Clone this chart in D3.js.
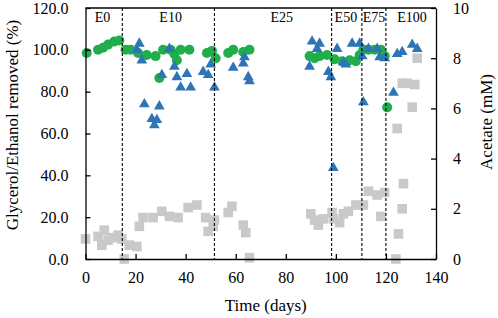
<!DOCTYPE html>
<html lang="en">
<head>
    <meta charset="UTF-8">
    <title>Glycerol / Ethanol removal and acetate</title>
    <script src="https://d3js.org/d3.v7.min.js"></script>
    <style>
        body { margin: 0; background: #fff; }
        text { font-family: "Liberation Serif", "Times New Roman", serif; fill: #000; }
    </style>
</head>
<body>
    <svg id="chart" width="498" height="318"></svg>
    <script>
        // green circles: removal (%)
        const circleDays = [0.5, 5, 7, 9, 11.5, 13.5, 16, 18, 21, 24.5, 28, 29.5, 31, 34, 35.5, 36.5, 38, 41.5, 48.5, 50.5, 52, 57, 59, 63, 65.5,
            89.5, 91.5, 93.5, 96.5, 99.5, 102.5, 105.5, 108, 109.5, 111, 113, 115.5, 118, 119.5, 120.5];
        const circlePct = [98.5, 100, 101, 102.5, 104, 104.5, 100, 100, 98.5, 97.5, 97, 86.5, 100, 100, 98, 95, 100, 100, 98.5, 99.5, 96, 98.5, 100, 99, 100,
            97, 96, 97, 97.5, 95.5, 94.5, 95, 94.5, 97.5, 100, 100, 100, 100, 97, 72.5];

        // blue triangles: removal (%)
        const triDays = [20.5, 21.5, 22.5, 23.5, 26.5, 27.5, 28.5, 29.5, 30.5, 33.5, 35.5, 36.5, 38, 40.5, 42, 47, 49, 50, 51.5, 59, 63, 63.5, 65, 65.5,
            89.5, 90.5, 92.5, 93.5, 97, 98, 99, 100.5, 103, 104, 106.5, 109.5, 111, 110.5, 113, 116.5, 117.5, 119.5, 123, 124.5, 126.5, 130.5, 132.5];
        const triPct = [100, 103, 95, 74, 67, 64, 66.5, 73, 88, 100.5, 92, 87, 82, 88.5, 82, 89.5, 88, 93, 82, 91.5, 93.5, 96.5, 87, 85,
            92, 104, 100.5, 103, 89.5, 87, 43.5, 100.5, 94, 93, 103, 103, 75, 97, 100.5, 100.5, 96.5, 96, 79.5, 98, 99, 102.5, 100.5];

        // grey squares: acetate (mM)
        const sqDays = [0, 5, 6.5, 7.5, 9, 11, 13, 14.5, 15.5, 17.5, 20.5, 21.5, 23, 27, 30.5, 33.5, 37, 41, 44.5, 48, 49, 51, 51.5, 57, 58.5, 63, 64, 65.5,
            90, 91.5, 93, 95, 98.5, 99, 101.5, 103, 105, 108, 111, 113, 116.5, 118, 119.5, 124, 125, 124.5, 126.5, 127, 126.5, 128.5, 130.5, 131.5, 132.5];
        const sqMM = [0.8, 0.9, 0.55, 1.15, 0.75, 0.85, 0.95, 0.8, 0, 0.55, 0.5, 1.3, 1.65, 1.65, 1.9, 1.7, 1.65, 2.05, 2.15, 1.65, 1.1, 1.3, 1.55, 1.85, 2.1, 1.35, 1.05, 0.05,
            1.8, 1.55, 1.35, 1.6, 1.85, 1.6, 1.45, 1.8, 1.9, 2.15, 2.15, 2.7, 2.55, 1.7, 2.65, 0, 1.0, 5.2, 2.0, 3.0, 7.0, 7.0, 6.05, 6.95, 8.0];

        // phase changes
        const phaseDays = [14.7, 51.5, 98.3, 110.4, 120];
        const phaseNames = ["E0", "E10", "E25", "E50", "E75", "E100"];
        const phaseNameDays = [6.8, 34, 78.4, 104, 115.2, 130.4];

        const xTicks = [0, 20, 40, 60, 80, 100, 120, 140];
        const leftTicks = [0, 20, 40, 60, 80, 100, 120];
        const rightTicks = [0, 2, 4, 6, 8, 10];

        const svg = d3.select("#chart");
        const plotL = 85.5, plotR = 436, plotT = 8, plotB = 259;

        const x = d3.scaleLinear().domain([0, 140]).range([plotL, plotR]);
        const yL = d3.scaleLinear().domain([0, 120]).range([plotB, plotT]);
        const yR = d3.scaleLinear().domain([0, 10]).range([plotB, plotT]);

        // markers
        svg.append("g").selectAll("path")
            .data(sqDays.map((d, i) => [d, sqMM[i]]))
            .enter().append("path")
                .attr("transform", d => `translate(${x(d[0])},${yR(d[1])})`)
                .attr("d", d3.symbol(d3.symbolSquare, 92))
                .attr("fill", "#c9c9c9");

        svg.append("g").selectAll("circle")
            .data(circleDays.map((d, i) => [d, circlePct[i]]))
            .enter().append("circle")
                .attr("cx", d => x(d[0]))
                .attr("cy", d => yL(d[1]))
                .attr("r", 5)
                .attr("fill", "#1fae4b");

        svg.append("g").selectAll("path")
            .data(triDays.map((d, i) => [d, triPct[i]]))
            .enter().append("path")
                .attr("transform", d => `translate(${x(d[0])},${yL(d[1])})`)
                .attr("d", d3.symbol(d3.symbolTriangle, 50))
                .attr("fill", "#2e75b6");

        // phase lines
        svg.append("g").selectAll("line")
            .data(phaseDays)
            .enter().append("line")
                .attr("x1", d => x(d)).attr("x2", d => x(d))
                .attr("y1", plotT).attr("y2", plotB)
                .attr("stroke", "#000")
                .attr("stroke-width", 1.1)
                .attr("stroke-dasharray", "3,2");

        svg.append("g").selectAll("text")
            .data(phaseNames)
            .enter().append("text")
                .attr("x", (d, i) => x(phaseNameDays[i]))
                .attr("y", 22)
                .attr("text-anchor", "middle")
                .style("font-size", "14px")
                .text(d => d);

        // axes
        const ax = svg.append("g")
            .attr("transform", `translate(0,${plotB})`)
            .call(d3.axisBottom(x).tickValues(xTicks).tickSizeInner(-5).tickSizeOuter(0).tickPadding(13));
        const ayL = svg.append("g")
            .attr("transform", `translate(${plotL},0)`)
            .call(d3.axisLeft(yL).tickValues(leftTicks).tickFormat(d3.format(".1f")).tickSizeInner(-5).tickSizeOuter(0).tickPadding(17));
        const ayR = svg.append("g")
            .attr("transform", `translate(${plotR},0)`)
            .call(d3.axisRight(yR).tickValues(rightTicks).tickSizeInner(-5).tickSizeOuter(0).tickPadding(17));

        [ax, ayL, ayR].forEach(a => {
            a.selectAll("path, line").attr("stroke", "#000").attr("stroke-width", 1.3);
            a.selectAll("text").style("font-size", "16px").style("font-family", "'Liberation Serif', serif");
        });

        svg.append("line")
            .attr("x1", plotL).attr("x2", plotR)
            .attr("y1", plotT).attr("y2", plotT)
            .attr("stroke", "#000").attr("stroke-width", 1.3);

        // titles
        svg.append("text")
            .attr("x", (plotL + plotR) / 2 + 5)
            .attr("y", 311)
            .attr("text-anchor", "middle")
            .style("font-size", "17px")
            .text("Time (days)");

        svg.append("text")
            .attr("transform", "translate(18,125) rotate(-90)")
            .attr("text-anchor", "middle")
            .style("font-size", "17px")
            .text("Glycerol/Ethanol removed (%)");

        svg.append("text")
            .attr("transform", "translate(492,122) rotate(-90)")
            .attr("text-anchor", "middle")
            .style("font-size", "17px")
            .text("Acetate (mM)");
    </script>
</body>
</html>
